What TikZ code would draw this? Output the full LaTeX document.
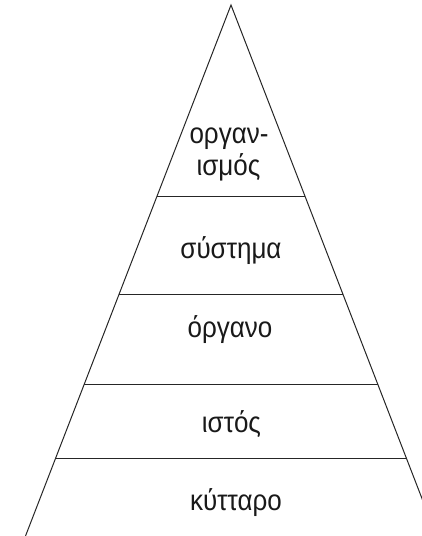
\documentclass[tikz,border=0pt]{standalone}
\usepackage{fontspec}
\setmainfont{Liberation Sans}
\usetikzlibrary{calc}
\newcommand{\lblbox}[1]{\scalebox{1}[1.12]{#1}}
\tikzset{
  edge/.style={line width=1pt, draw=black!85},
  lbl/.style={anchor=base, inner sep=0pt, font=\fontsize{26}{32}\selectfont, text=black!90}
}
\begin{document}
\begin{tikzpicture}[x=1pt,y=-1pt]
\useasboundingbox (0,0) rectangle (422,536);
\clip (0,0) rectangle (422,536);
\coordinate (apex) at (231,5);
\coordinate (bl) at (25.5,536);
\coordinate (br) at (436.5,536);
\draw[edge, line join=miter] (bl) -- (apex) -- (br);
\foreach \t/\n in {0.3597/a,0.5461/b,0.7156/c,0.8531/d}{
  \coordinate (l\n) at ($(apex)!\t!(bl)$);
  \coordinate (r\n) at ($(apex)!\t!(br)$);
  \draw[edge] (l\n) -- (r\n);
}
\node[lbl] (org1) at (229,143) {\lblbox{οργαν-}};
\node[lbl] (org2) at (228.5,175) {\lblbox{ισμός}};
\node[lbl] (sys) at (231,258) {\lblbox{σύστημα}};
\node[lbl] (organo) at (230,337) {\lblbox{όργανο}};
\node[lbl] (istos) at (231.5,432) {\lblbox{ιστός}};
\node[lbl] (kyt) at (236,510) {\lblbox{κύτταρο}};
\end{tikzpicture}
\end{document}
